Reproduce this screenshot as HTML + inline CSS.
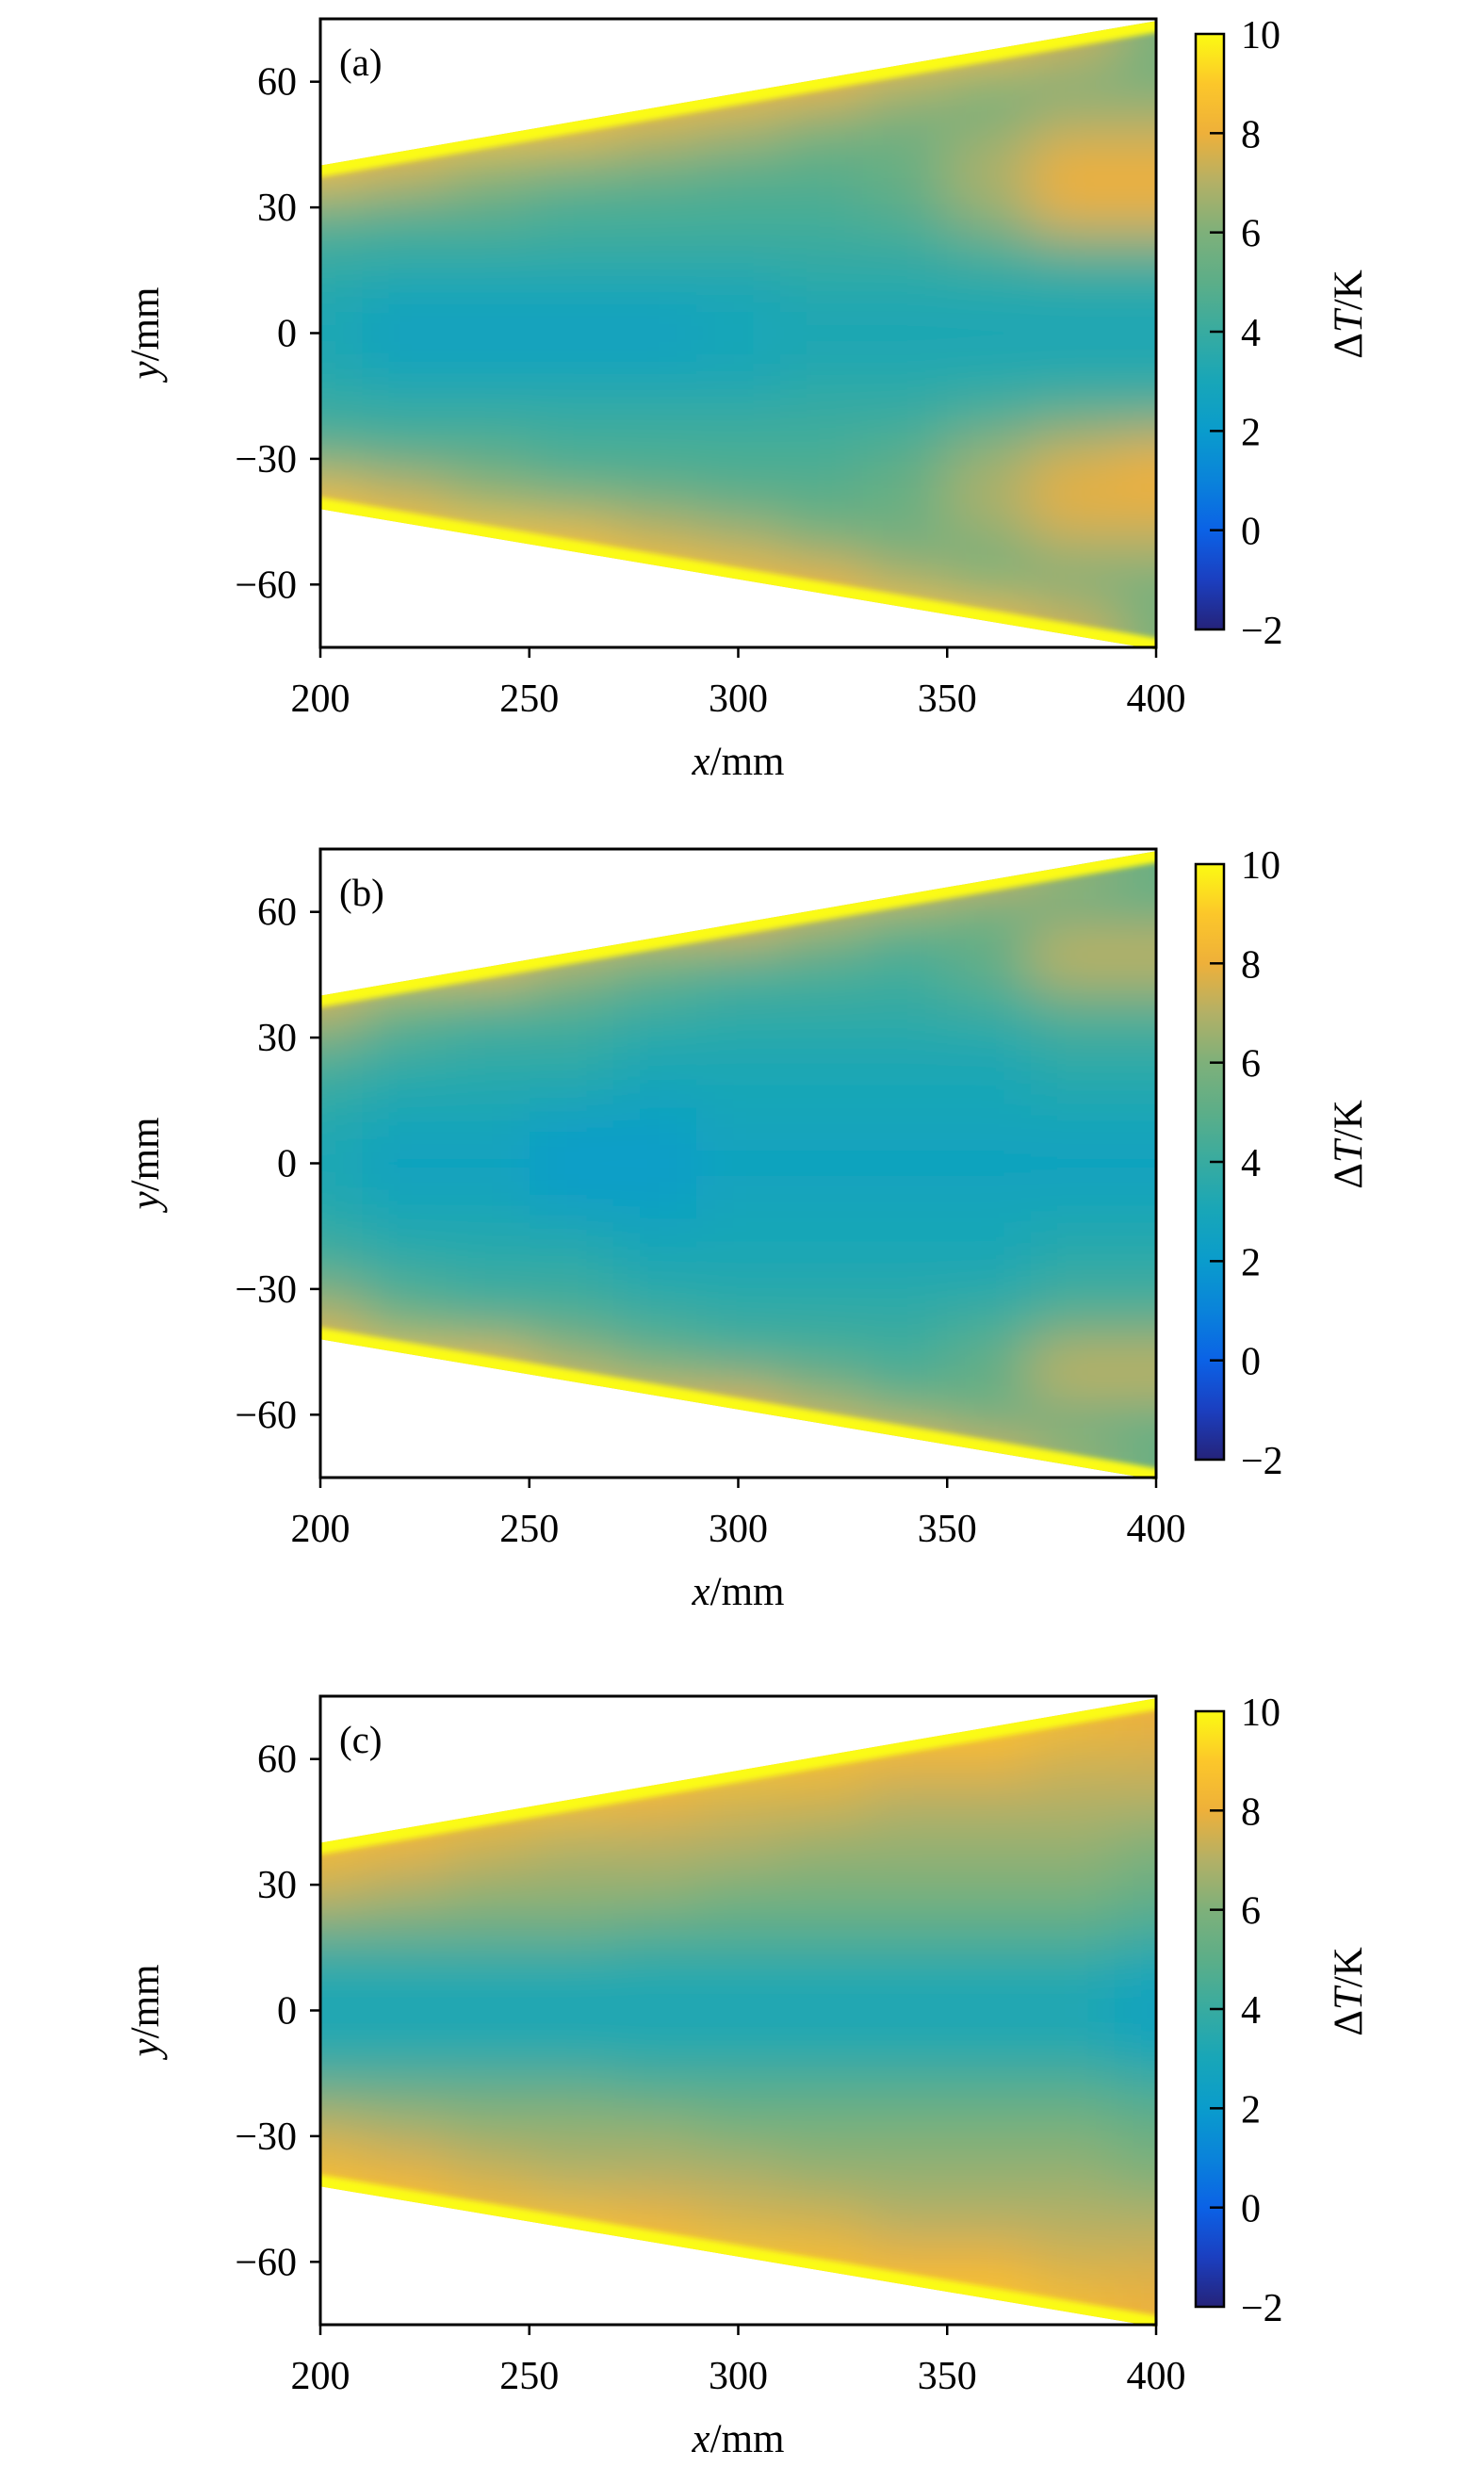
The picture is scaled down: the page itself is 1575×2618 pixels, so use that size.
<!DOCTYPE html>
<html><head><meta charset="utf-8">
<style>
html,body{margin:0;padding:0;background:#fff;}
svg{display:block;}
text{font-family:"Liberation Serif",serif;fill:#000;}
</style></head>
<body>
<svg id="fig" width="1575" height="2618" viewBox="0 0 1575 2618" xmlns="http://www.w3.org/2000/svg">
<defs>
<filter id="blurF" x="-10%" y="-10%" width="120%" height="120%"><feGaussianBlur stdDeviation="30"/></filter>
<filter id="edgeBlur" x="-5%" y="-50%" width="110%" height="200%"><feGaussianBlur stdDeviation="3"/></filter>
<linearGradient id="cbGrad" x1="0" y1="1" x2="0" y2="0"></linearGradient>
</defs>
</svg>
<script>
// ---- data ----
const xCats = [200,220,240,260,280,300,320,340,360,380,400];
const yRows = [70,60,50,40,30,20,10,0,-10,-20,-30,-40,-50,-60,-70];
const valuesA = [
[9,9,9,9,9,9,9,9,8.5,7.5,6],
[9,9,9,9,9,8.5,8,7,6,5.5,5.5],
[9,9,9,8.5,7.5,7,6,5.5,6,7,7],
[8.5,7.5,6.5,6,5.5,5,5,5.5,7,8,8],
[5.5,5,5,4.5,4.5,4.5,4.5,5,6.5,8,8],
[4,4,4,4,4,4,4,4,4.5,5,5],
[3.5,3,3,3,3,3,3.5,3.5,3.5,3.5,3.5],
[3,2.5,2.5,2.5,2.5,3,3,3,3,3,3],
[3.5,3,3,3,3,3,3.5,3.5,3.5,3.5,3.5],
[4,4,4,4,4,4,4,4,4.5,5,5],
[5.5,5,5,4.5,4.5,4.5,4.5,5,6.5,7.5,8],
[8.5,7.5,6.5,6,5.5,5,5,5.5,7,8,8],
[9,9,9,8.5,7.5,7,6,5.5,6,7,7],
[9,9,9,9,9,8.5,8,7,6,5.5,5.5],
[9,9,9,9,9,9,9,9,8.5,7.5,6]];
const valuesB = [
[9,9,9,9,9,9,9,8.5,7.5,6.5,5.5],
[9,9,9,9,8.5,8,7,6,5,5,5],
[9,9,8.5,7,6,5.5,5,4.5,5.5,7.5,7.5],
[7.5,6,5.5,5,4.5,4,4,4,4.5,5.5,5.5],
[5.5,4.5,4,4,3.5,3.5,3.5,3.5,3.5,4,4],
[4,3.5,3.5,3.5,3,3,3,3,3,3.5,3.5],
[3.5,3,3,2.5,2.5,3,3,3,3,3,3],
[3,2.5,2.5,2,2,2.5,2.5,2.5,2.5,2.5,2.5],
[3.5,3,3,2.5,2.5,3,3,3,3,3,3],
[4,3.5,3.5,3.5,3,3,3,3,3,3.5,3.5],
[5.5,4.5,4,4,3.5,3.5,3.5,3.5,3.5,4,4],
[7.5,6,5.5,5,4.5,4,4,4,4.5,5.5,5.5],
[9,9,8.5,7,6,5.5,5,4.5,5.5,7.5,7.5],
[9,9,9,9,8.5,8,7,6,5,5,5],
[9,9,9,9,9,9,9,8.5,7.5,6.5,5.5]];
const valuesC = [
[9,9,9,9,9,9,9,9,9,8.5,8],
[9,9,9,9,9,9,8.5,8,8,7.5,7.5],
[9,9,8.5,8.5,8,7.5,7.5,7,7,7,7],
[8.5,8,7.5,7,7,7,6.5,6.5,6.5,6.5,6],
[7.5,7,6.5,6.5,6.5,6,6,6,6,6,5.5],
[5.5,5.5,5.5,5.5,5,5,5,5,5,5,4.5],
[3.5,3.5,3.5,3.5,3.5,3.5,3.5,3.5,3.5,3.5,3],
[3,3,3,3,3,3,3,3,3,3,2.5],
[3.5,3.5,3.5,3.5,3.5,3.5,3.5,3.5,3.5,3.5,3],
[5.5,5.5,5.5,5.5,5,5,5,5,5,5,4.5],
[7.5,7,6.5,6.5,6.5,6,6,6,6,6,5.5],
[8.5,8,7.5,7,7,7,6.5,6.5,6.5,6.5,6],
[9,9,8.5,8.5,8,7.5,7.5,7,7,7,7],
[9,9,9,9,9,9,8.5,8,8,7.5,7.5],
[9,9,9,9,9,9,9,9,9,8.5,8]];
const wedgeTop = [[200,40],[400,74.5]];
const wedgeBottom = [[200,-42],[400,-75.5]];
const xTicks = [200,250,300,350,400];
const yTicks = [60,30,0,-30,-60];
const cbTicks = [10,8,6,4,2,0,-2];
const panelLabels = ["(a)","(b)","(c)"];
const cmapVals = [-2,-1,0,1,2,3,4,5,6,7,8,9,10];
const cmapCols = ["#25237a","#1b3fc0","#0b62e6","#0a83da","#0a9ccc","#18a6b8","#38aba0","#5cae88","#7eb07a","#b3b066","#eeb03a","#fcc72a","#fbfb12"];

// ---- helpers ----
const NS = "http://www.w3.org/2000/svg";
const svg = document.getElementById("fig");
function mk(tag, attrs, parent){const e=document.createElementNS(NS,tag);for(const k in attrs)e.setAttribute(k,attrs[k]);(parent||svg).appendChild(e);return e;}
function hex(h){return [parseInt(h.slice(1,3),16),parseInt(h.slice(3,5),16),parseInt(h.slice(5,7),16)];}
function cmap(v){
  v=Math.max(cmapVals[0],Math.min(cmapVals[cmapVals.length-1],v));
  for(let i=0;i<cmapVals.length-1;i++){
    if(v<=cmapVals[i+1]){const t=(v-cmapVals[i])/(cmapVals[i+1]-cmapVals[i]);const a=hex(cmapCols[i]),b=hex(cmapCols[i+1]);
      return "rgb("+a.map((c,j)=>Math.round(c+(b[j]-c)*t)).join(",")+")";}
  }
  return cmapCols[cmapCols.length-1];
}
const grad=document.getElementById("cbGrad");
cmapVals.forEach((v,i)=>{const s=document.createElementNS(NS,"stop");s.setAttribute("offset",((v+2)/12*100)+"%");s.setAttribute("stop-color",cmapCols[i]);grad.appendChild(s);});

const allValues=[valuesA,valuesB,valuesC];
const tops=[20,901,1800];
const L=340,R=1227,H=667;
const defs=svg.querySelector("defs");

allValues.forEach((vals,p)=>{
  const T=tops[p];
  const sx=x=>L+(x-200)/200*(R-L);
  const sy=y=>T+(75-y)/150*H;
  const g=mk("g",{});
  
  
  const cp=mk("clipPath",{id:"wedge"+p},defs);
  const pts=[[wedgeTop[0][0],wedgeTop[0][1]],[wedgeTop[1][0],wedgeTop[1][1]],[wedgeBottom[1][0],wedgeBottom[1][1]],[wedgeBottom[0][0],wedgeBottom[0][1]]].map(q=>sx(q[0])+","+sy(q[1])).join(" ");
  mk("polygon",{points:pts},cp);
  const hm=mk("g",{"clip-path":"url(#wedge"+p+")"},g);
  
  
  const blurG=mk("g",{filter:"url(#blurF)"},hm);
  const dx=20, dy=10;
  yRows.forEach((yv,ri)=>{
    xCats.forEach((xv,ci)=>{
      let x0=xv-dx/2,x1=xv+dx/2,y0=yv+dy/2,y1=yv-dy/2;
      if(ci===0)x0-=30; if(ci===xCats.length-1)x1+=30;
      if(ri===0)y0+=30; if(ri===yRows.length-1)y1-=30;
      const r=mk("rect",{x:sx(x0),y:sy(y0),width:sx(x1)-sx(x0)+0.5,height:sy(y1)-sy(y0)+0.5,fill:cmap(vals[ri][ci])},blurG);
      
      
    });
  });
  const eg=mk("g",{filter:"url(#edgeBlur)"},hm);
  const e1=mk("line",{x1:sx(wedgeTop[0][0]-5),y1:sy(wedgeTop[0][1]-0.86),x2:sx(wedgeTop[1][0]+5),y2:sy(wedgeTop[1][1]+0.86),stroke:cmap(10),"stroke-width":24},eg);
  
  
  const e2=mk("line",{x1:sx(wedgeBottom[0][0]-5),y1:sy(wedgeBottom[0][1]+0.84),x2:sx(wedgeBottom[1][0]+5),y2:sy(wedgeBottom[1][1]-0.84),stroke:cmap(10),"stroke-width":24},eg);
  
  
  const fr=mk("rect",{x:L,y:T,width:R-L,height:H,fill:"none",stroke:"#000","stroke-width":3},g);
  
  
  xTicks.forEach(v=>{
    mk("line",{x1:sx(v),y1:T+H,x2:sx(v),y2:T+H+11,stroke:"#000","stroke-width":2.5},g);
    const t=mk("text",{x:sx(v),y:T+H+68,"font-size":42,"text-anchor":"middle"},g);
    t.textContent=v;
    
    
  });
  yTicks.forEach(v=>{
    mk("line",{x1:L,y1:sy(v),x2:L-11,y2:sy(v),stroke:"#000","stroke-width":2.5},g);
    const t=mk("text",{x:L-25,y:sy(v)+14,"font-size":42,"text-anchor":"end"},g);
    t.textContent=v<0?"\u2212"+(-v):v;
    
    
  });
  const xl=mk("text",{x:(L+R)/2,y:T+H+135,"font-size":43,"text-anchor":"middle"},g);
  xl.innerHTML='<tspan font-style="italic">x</tspan>/mm';
  
  
  const yl=mk("text",{x:0,y:0,"font-size":43,"text-anchor":"middle",transform:"translate(168,"+(T+H/2)+") rotate(-90)"},g);
  yl.innerHTML='<tspan font-style="italic">y</tspan>/mm';
  
  
  const pl=mk("text",{x:360,y:T+60,"font-size":41},g);
  pl.textContent=panelLabels[p];
  
  
  const cbT=T+16,cbB=T+648,cbL=1269,cbR=1299;
  const cy=v=>cbB-(v+2)/12*(cbB-cbT);
  const cb=mk("rect",{x:cbL,y:cbT,width:cbR-cbL,height:cbB-cbT,fill:"url(#cbGrad)",stroke:"#000","stroke-width":2.5},g);
  
  
  cbTicks.forEach(v=>{
    if(v!==10&&v!==-2)mk("line",{x1:cbR-15,y1:cy(v),x2:cbR,y2:cy(v),stroke:"#000","stroke-width":2.5},g);
    const t=mk("text",{x:cbR+18,y:cy(v)+15,"font-size":42},g);
    t.textContent=v<0?"\u2212"+(-v):v;
    
    
  });
  const cl=mk("text",{x:0,y:0,"font-size":43,"text-anchor":"middle",transform:"translate(1445,"+(T+H/2-20)+") rotate(-90)"},g);
  cl.innerHTML='\u0394<tspan font-style="italic">T</tspan>/K';
  
  
});
</script>
</body></html>
